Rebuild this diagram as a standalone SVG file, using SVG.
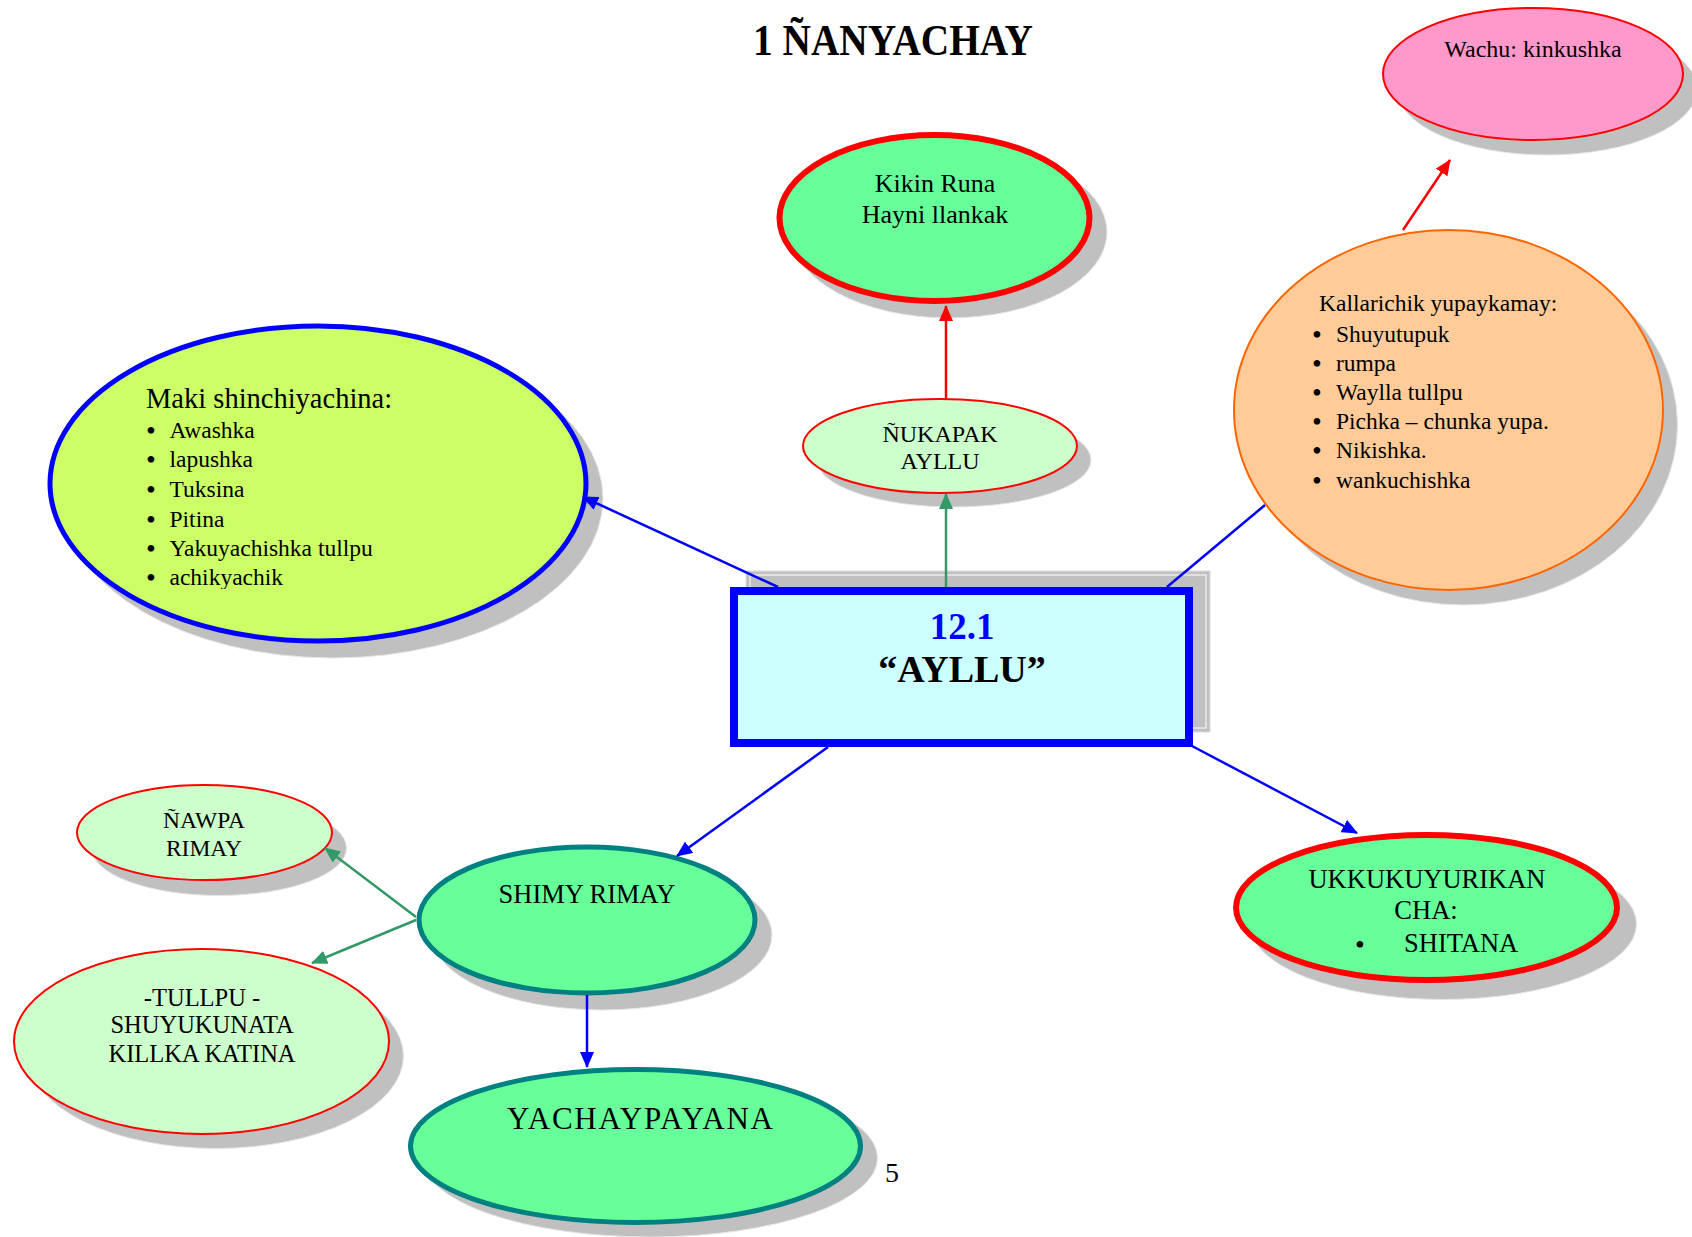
<svg xmlns="http://www.w3.org/2000/svg" width="1692" height="1237" viewBox="0 0 1692 1237">
<style>
  text { font-family: "Liberation Serif", "Times New Roman", serif; fill: #000; }
  .sh { fill: #c0c0c0; stroke: #e6e6e6; stroke-width: 1; }
  .c { text-anchor: middle; }
  .blue { stroke: #0000ff; stroke-width: 2.5; fill: none; }
  .green { stroke: #339966; stroke-width: 2.5; fill: none; }
  .red { stroke: #ff0000; stroke-width: 2.5; fill: none; }
  .b { font-size: 28px; }
</style>
<defs>
  <marker id="ab" markerUnits="userSpaceOnUse" markerWidth="16" markerHeight="14" refX="15" refY="7" orient="auto"><path d="M0,0 L16,7 L0,14 z" fill="#0000ff"/></marker>
  <marker id="ag" markerUnits="userSpaceOnUse" markerWidth="16" markerHeight="14" refX="15" refY="7" orient="auto"><path d="M0,0 L16,7 L0,14 z" fill="#339966"/></marker>
  <marker id="ar" markerUnits="userSpaceOnUse" markerWidth="16" markerHeight="14" refX="15" refY="7" orient="auto"><path d="M0,0 L16,7 L0,14 z" fill="#ff0000"/></marker>
  <clipPath id="makiclip"><rect x="0" y="0" width="700" height="589"/></clipPath>
</defs>
<rect width="1692" height="1237" fill="#ffffff"/>

<text x="893" y="55" class="c" font-size="44" font-weight="bold" textLength="280" lengthAdjust="spacingAndGlyphs">1 ÑANYACHAY</text>

<g id="node-wachu">
  <ellipse class="sh" cx="1547" cy="89" rx="150" ry="66"/>
  <ellipse cx="1533" cy="74" rx="150" ry="66" fill="#ff99cc" stroke="#ff0000" stroke-width="2"/>
  <text x="1533" y="57" class="c" font-size="24">Wachu: kinkushka</text>
</g>

<g id="node-kikin">
  <ellipse class="sh" cx="949" cy="232" rx="158" ry="86"/>
  <ellipse cx="934.5" cy="218" rx="155" ry="83" fill="#66ff99" stroke="#ff0000" stroke-width="6"/>
  <text x="935" y="192" class="c" font-size="26">Kikin Runa</text>
  <text x="935" y="223" class="c" font-size="26">Hayni llankak</text>
</g>

<g id="node-nukapak">
  <ellipse class="sh" cx="954" cy="460" rx="137" ry="47"/>
  <ellipse cx="940" cy="446" rx="137" ry="47" fill="#ccffcc" stroke="#ff0000" stroke-width="2"/>
  <text x="940" y="442" class="c" font-size="24">ÑUKAPAK</text>
  <text x="940" y="469" class="c" font-size="24">AYLLU</text>
</g>

<g id="node-kallarichik">
  <ellipse class="sh" cx="1463" cy="425" rx="214.5" ry="180"/>
  <ellipse cx="1448.5" cy="410" rx="214.5" ry="180" fill="#ffcc99" stroke="#ff6600" stroke-width="2"/>
  <text x="1319" y="311" font-size="23.5">Kallarichik yupaykamay:</text>
  <g font-size="23.5">
    <text y="342"><tspan x="1312" class="b" dy="2">•</tspan><tspan x="1336" dy="-2">Shuyutupuk</tspan></text>
    <text y="371"><tspan x="1312" class="b" dy="2">•</tspan><tspan x="1336" dy="-2">rumpa</tspan></text>
    <text y="400"><tspan x="1312" class="b" dy="2">•</tspan><tspan x="1336" dy="-2">Waylla tullpu</tspan></text>
    <text y="429"><tspan x="1312" class="b" dy="2">•</tspan><tspan x="1336" dy="-2">Pichka – chunka yupa.</tspan></text>
    <text y="458"><tspan x="1312" class="b" dy="2">•</tspan><tspan x="1336" dy="-2">Nikishka.</tspan></text>
    <text y="488"><tspan x="1312" class="b" dy="2">•</tspan><tspan x="1336" dy="-2">wankuchishka</tspan></text>
  </g>
</g>

<g id="node-maki">
  <ellipse class="sh" cx="333" cy="498.5" rx="270" ry="159.5"/>
  <ellipse cx="318" cy="483.5" rx="268" ry="157.5" fill="#ccff66" stroke="#0000ff" stroke-width="5"/>
  <g clip-path="url(#makiclip)">
    <text x="146" y="408" font-size="28.5">Maki shinchiyachina:</text>
    <g font-size="23.5">
      <text y="438"><tspan x="146" class="b" dy="2">•</tspan><tspan x="169.5" dy="-2">Awashka</tspan></text>
      <text y="467"><tspan x="146" class="b" dy="2">•</tspan><tspan x="169.5" dy="-2">lapushka</tspan></text>
      <text y="497"><tspan x="146" class="b" dy="2">•</tspan><tspan x="169.5" dy="-2">Tuksina</tspan></text>
      <text y="527"><tspan x="146" class="b" dy="2">•</tspan><tspan x="169.5" dy="-2">Pitina</tspan></text>
      <text y="556"><tspan x="146" class="b" dy="2">•</tspan><tspan x="169.5" dy="-2">Yakuyachishka tullpu</tspan></text>
      <text y="585"><tspan x="146" class="b" dy="2">•</tspan><tspan x="169.5" dy="-2">achikyachik</tspan></text>
    </g>
  </g>
</g>

<g id="node-ayllu">
  <rect x="746" y="571" width="464" height="161" fill="#c0c0c0" stroke="#dddddd" stroke-width="1"/>
  <rect x="750" y="575" width="456" height="153" fill="none" stroke="#ffffff" stroke-width="1"/>
  <rect x="734" y="591" width="455" height="152" fill="#ccffff" stroke="#0000ff" stroke-width="8"/>
  <text x="962" y="639" class="c" font-size="37" font-weight="bold" style="fill:#0000ff">12.1</text>
  <text x="962" y="682" class="c" font-size="38" font-weight="bold">“AYLLU”</text>
</g>

<g id="node-shimy">
  <ellipse class="sh" cx="602" cy="935" rx="170" ry="75"/>
  <ellipse cx="587" cy="920" rx="168" ry="73" fill="#66ff99" stroke="#008080" stroke-width="5"/>
  <text x="587" y="903" class="c" font-size="26.5">SHIMY RIMAY</text>
</g>

<g id="node-ukku">
  <ellipse class="sh" cx="1443" cy="924" rx="193.5" ry="75.5"/>
  <ellipse cx="1426.5" cy="907.5" rx="190.5" ry="72.5" fill="#66ff99" stroke="#ff0000" stroke-width="6"/>
  <text x="1427" y="888" class="c" font-size="26.5">UKKUKUYURIKAN</text>
  <text x="1426" y="919" class="c" font-size="26.5">CHA:</text>
  <text y="952" font-size="26.5"><tspan x="1355" class="b" dy="2">•</tspan><tspan x="1404" dy="-2">SHITANA</tspan></text>
</g>

<g id="node-nawpa">
  <ellipse class="sh" cx="219" cy="848" rx="127.5" ry="47.5"/>
  <ellipse cx="204.5" cy="832.5" rx="127.5" ry="47.5" fill="#ccffcc" stroke="#ff0000" stroke-width="2"/>
  <text x="204" y="828" class="c" font-size="23.5">ÑAWPA</text>
  <text x="204" y="856" class="c" font-size="23.5">RIMAY</text>
</g>

<g id="node-tullpu">
  <ellipse class="sh" cx="216" cy="1056" rx="187.5" ry="92.5"/>
  <ellipse cx="201.5" cy="1041.5" rx="187.5" ry="92.5" fill="#ccffcc" stroke="#ff0000" stroke-width="2"/>
  <text x="202" y="1006" class="c" font-size="24.5">-TULLPU -</text>
  <text x="202" y="1033" class="c" font-size="24.5">SHUYUKUNATA</text>
  <text x="202" y="1062" class="c" font-size="24.5">KILLKA KATINA</text>
</g>

<g id="node-yachay">
  <ellipse class="sh" cx="650" cy="1158" rx="227.5" ry="79"/>
  <ellipse cx="635.5" cy="1146" rx="225" ry="76.5" fill="#66ff99" stroke="#008080" stroke-width="5"/>
  <text x="640" y="1129" class="c" font-size="31" textLength="266" lengthAdjust="spacing">YACHAYPAYANA</text>
</g>

<text x="885" y="1182" font-size="28">5</text>

<g id="connectors">
  <line class="red" x1="946" y1="399" x2="946" y2="306" marker-end="url(#ar)"/>
  <line class="red" x1="1403" y1="230" x2="1450" y2="160" marker-end="url(#ar)"/>
  <line class="green" x1="946" y1="587" x2="946" y2="494" marker-end="url(#ag)"/>
  <line class="blue" x1="778" y1="587" x2="583" y2="497" marker-end="url(#ab)"/>
  <line class="blue" x1="1167" y1="587" x2="1265" y2="505"/>
  <line class="blue" x1="828" y1="747" x2="677" y2="856" marker-end="url(#ab)"/>
  <line class="blue" x1="1192" y1="746" x2="1357" y2="833" marker-end="url(#ab)"/>
  <line class="blue" x1="587" y1="995" x2="587" y2="1067" marker-end="url(#ab)"/>
  <line class="green" x1="416" y1="917" x2="325" y2="848" marker-end="url(#ag)"/>
  <line class="green" x1="416" y1="920" x2="312" y2="963" marker-end="url(#ag)"/>
</g>
</svg>
